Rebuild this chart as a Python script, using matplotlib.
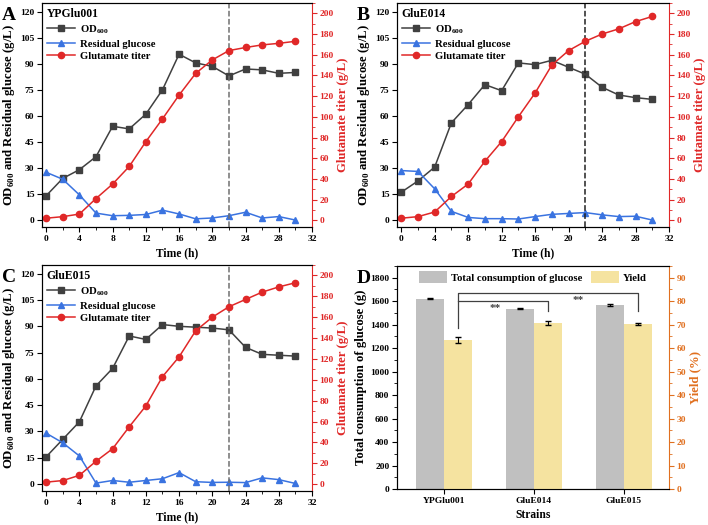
import matplotlib.pyplot as plt
import numpy as np
from matplotlib.ticker import AutoMinorLocator, MultipleLocator

plt.rcParams["font.family"] = "Liberation Serif"
plt.rcParams["font.weight"] = "bold"
plt.rcParams["axes.labelweight"] = "bold"
plt.rcParams["mathtext.fontset"] = "custom"
plt.rcParams["mathtext.rm"] = "Liberation Serif:bold"
plt.rcParams["mathtext.bf"] = "Liberation Serif:bold"
plt.rcParams["xtick.direction"] = "out"
plt.rcParams["ytick.direction"] = "out"

time_h = [0, 2, 4, 6, 8, 10, 12, 14, 16, 18, 20, 22, 24, 26, 28, 30]

strains = ["YPGlu001", "GluE014", "GluE015"]

od600 = {
    "YPGlu001": [14, 24, 29, 36.5, 54, 52.5, 61, 75, 95.5, 90.5, 88.5, 83, 87, 86.5, 84.5, 85],
    "GluE014": [16, 22.5, 30.5, 56, 66.5, 78, 74.5, 90.5, 89.5, 92, 88, 84, 76.5, 72, 70.5, 69.5],
    "GluE015": [15.5, 25.5, 35.5, 56, 66, 84.5, 82.5, 91, 90, 89.5, 89, 88, 78, 74, 73.5, 73],
}
glucose = {
    "YPGlu001": [27.5, 23.5, 14.5, 4, 2.5, 2.7, 3.2, 5.7, 3.5, 0.7, 1.2, 2.5, 4.5, 1.2, 2, 0],
    "GluE014": [28.5, 28, 18, 5, 1.5, 0.8, 0.8, 0.6, 2, 3.3, 3.8, 4.3, 3, 2, 2.2, 0],
    "GluE015": [29, 23.5, 16, 0.5, 2, 1, 2, 3, 6.5, 1.3, 0.9, 1, 0.8, 3.5, 2.5, 0.3],
}
glutamate = {
    "YPGlu001": [2, 3.5, 6, 21, 35, 52, 76, 98, 121, 142, 155, 164, 167, 169.5, 171, 173],
    "GluE014": [2, 3.5, 8, 23, 35, 57, 76, 100, 123, 150, 164, 173, 180, 185, 192, 197],
    "GluE015": [2, 3.5, 8.5, 22, 34, 55, 75, 103, 122, 147, 160, 170, 177, 184, 189, 193],
}

total_glucose = [1620, 1535, 1568]
total_glucose_err = [5, 5, 5]
yield_pct = [63.5, 70.7, 70.4]
yield_err = [1.3, 1.0, 0.5]

C_OD = "#404040"
C_GLC = "#3a73e0"
C_GLU = "#e02828"
C_GREY = "#c0c0c0"
C_YEL = "#f5e3a0"
C_ORG = "#e07020"

TICK_FS = 6.8
LABEL_FS = 8.3
YLABEL_FS = 9.2
LEG_FS = 7.7

fig = plt.figure(figsize=(7.08, 5.25), dpi=100)
W, H = 708, 525


def add_ax(l, r, t, b):
    return fig.add_axes([l / W, 1 - b / H, (r - l) / W, (b - t) / H])


def panel_letter(ax, letter):
    pos = ax.get_position()
    fig.text(pos.x0 - 40 / W, pos.y1 - 17 / H, letter, fontsize=14, fontweight="bold")


def time_panel(ax, name, letter, vcolor):
    ax.plot(time_h, od600[name], "-s", color=C_OD, ms=4.5, lw=1.1, label=r"OD$_{600}$")
    ax.plot(time_h, glucose[name], "-^", color=C_GLC, ms=4.5, lw=1.1, label="Residual glucose")
    ax2 = ax.twinx()
    ax2.plot(time_h, glutamate[name], "-o", color=C_GLU, ms=4.5, lw=1.1)
    ax.plot([], [], "-o", color=C_GLU, ms=4.5, lw=1.1, label="Glutamate titer")
    ax.axvline(22, color=vcolor, ls="--", lw=1.1)

    ax.set_xlim(-0.5, 32)
    ax.set_ylim(-4, 125)
    ax2.set_ylim(-6.5, 210)
    ax.xaxis.set_major_locator(MultipleLocator(4))
    ax.xaxis.set_minor_locator(AutoMinorLocator(2))
    ax.yaxis.set_major_locator(MultipleLocator(15))
    ax2.yaxis.set_major_locator(MultipleLocator(20))
    ax2.yaxis.set_minor_locator(AutoMinorLocator(2))
    ax.tick_params(labelsize=TICK_FS, pad=2)
    ax2.tick_params(labelsize=TICK_FS, colors=C_GLU, which="both", pad=2)
    ax2.spines["right"].set_color(C_GLU)
    ax.spines["right"].set_visible(False)
    ax.set_xlabel("Time (h)", fontsize=LABEL_FS, labelpad=3)
    ax.set_ylabel(r"OD$_{600}$ and Residual glucose (g/L)", fontsize=YLABEL_FS, labelpad=2)
    ax2.set_ylabel("Glutamate titer (g/L)", fontsize=YLABEL_FS, color=C_GLU, labelpad=2)
    leg = ax.legend(loc="upper left", frameon=False, fontsize=LEG_FS, title=name,
                    title_fontproperties={"weight": "bold", "size": 8.4},
                    handlelength=2.6, borderpad=0.25, labelspacing=0.3,
                    handletextpad=0.5, borderaxespad=0.2)
    leg._legend_box.align = "left"
    panel_letter(ax, letter)


axA = add_ax(42, 312, 3, 227)
time_panel(axA, "YPGlu001", "A", "#707070")
axB = add_ax(397, 669, 3, 227)
time_panel(axB, "GluE014", "B", "#202020")
axC = add_ax(42, 312, 265, 491)
time_panel(axC, "GluE015", "C", "#707070")

# ── Panel D ──
axD = add_ax(397, 669, 266, 489)
x = np.arange(len(strains))
w = 0.31
axD.bar(x - w / 2, total_glucose, w, color=C_GREY, label="Total consumption of glucose",
        yerr=total_glucose_err, capsize=2.5, error_kw={"lw": 0.8})
axD2 = axD.twinx()
axD2.bar(x + w / 2, yield_pct, w, color=C_YEL,
         yerr=yield_err, capsize=2.5, error_kw={"lw": 0.8})
axD.bar([0], [0], 0, color=C_YEL, label="Yield")
axD.set_xlim(-0.52, 2.5)
axD.set_ylim(0, 1900)
axD2.set_ylim(0, 95)
axD.yaxis.set_major_locator(MultipleLocator(200))
axD.yaxis.set_minor_locator(AutoMinorLocator(2))
axD2.yaxis.set_major_locator(MultipleLocator(10))
axD2.yaxis.set_minor_locator(AutoMinorLocator(2))
axD.set_xticks(x)
axD.set_xticklabels(strains)
axD.tick_params(labelsize=TICK_FS, pad=2)
axD2.tick_params(labelsize=TICK_FS, colors=C_ORG, which="both", pad=2)
axD2.spines["right"].set_color(C_ORG)
axD.spines["right"].set_visible(False)
axD.set_xlabel("Strains", fontsize=LABEL_FS, labelpad=3)
axD.set_ylabel("Total consumption of glucose (g)", fontsize=YLABEL_FS, labelpad=2)
axD2.set_ylabel("Yield (%)", fontsize=YLABEL_FS, color=C_ORG, labelpad=2)
axD.legend(loc="upper center", ncol=2, frameon=False, fontsize=LEG_FS,
           handlelength=2.6, handleheight=1.3, columnspacing=0.8,
           borderaxespad=0.1, handletextpad=0.4)

# significance brackets
x0 = w / 2
axD.plot([x0, x0, 2 + x0, 2 + x0], [1371, 1666, 1666, 1514], color="#404040", lw=0.9)
axD.plot([x0, 1 + x0, 1 + x0], [1600, 1600, 1514], color="#404040", lw=0.9)
axD.text(0.57, 1520, "**", ha="center", fontsize=8, color="#404040")
axD.text(1.49, 1585, "**", ha="center", fontsize=8, color="#404040")
panel_letter(axD, "D")

fig.savefig("out.png", dpi=100)
